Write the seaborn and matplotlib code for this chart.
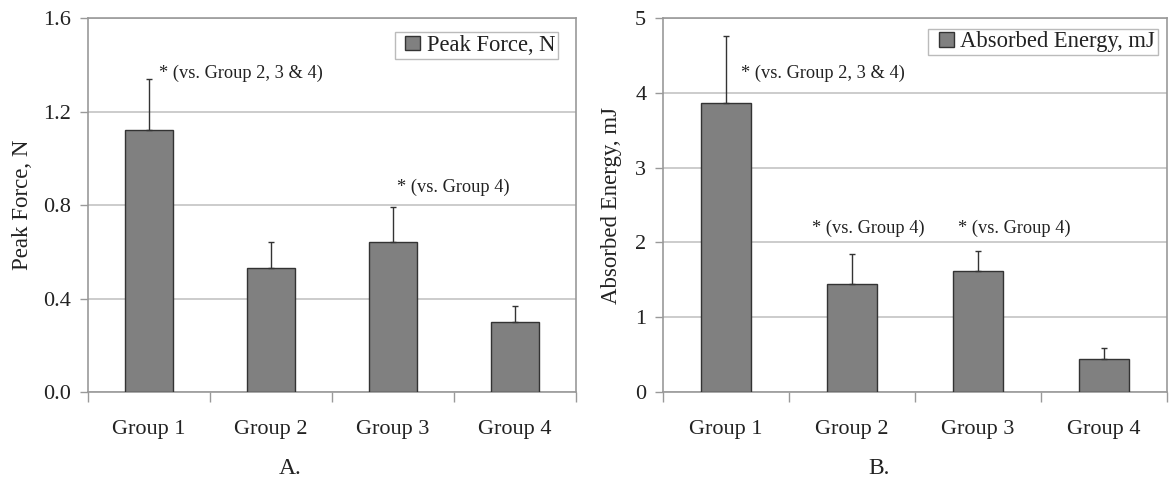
import matplotlib
matplotlib.use("Agg")
import matplotlib.pyplot as plt
from matplotlib.patches import Patch, Rectangle
from matplotlib.legend_handler import HandlerPatch
import numpy as np
import pandas as pd
import seaborn as sns

groups = ["Group 1", "Group 2", "Group 3", "Group 4"]
peak_force = [1.12, 0.53, 0.64, 0.30]
peak_force_sd = [0.22, 0.11, 0.15, 0.07]
energy = [3.87, 1.45, 1.62, 0.44]
energy_sd = [0.89, 0.40, 0.26, 0.15]

sns.set_theme(style="white")
plt.rcParams["font.family"] = ["Liberation Serif", "DejaVu Serif"]

TXT = "#222222"
GRID = "#c4c4c4"
SPINE = "#999999"
BAR = "#808080"


class SquareHandler(HandlerPatch):
    """Small square key drawn at the right end of the handle box."""

    def create_artists(self, legend, orig_handle, xdescent, ydescent, width,
                       height, fontsize, trans):
        s = height
        sq = Rectangle((-xdescent + width - s, -ydescent), s, s,
                       facecolor=orig_handle.get_facecolor(),
                       edgecolor=orig_handle.get_edgecolor(),
                       linewidth=orig_handle.get_linewidth(), transform=trans)
        return [sq]


fig = plt.figure(figsize=(11.69, 4.84), dpi=100)
ax_a = fig.add_axes([0.0753, 0.190, 0.4175, 0.7727])
ax_b = fig.add_axes([0.5671, 0.190, 0.4311, 0.7727])


def draw_panel(ax, values, sd, ymax, step, fmt, ylabel, legend_label, legend_anchor,
               ylabel_x, notes):
    df = pd.DataFrame({"group": groups, "value": values})
    sns.barplot(data=df, x="group", y="value", ax=ax, color=BAR, width=0.4,
                edgecolor="#333333", linewidth=1.0, saturation=1, errorbar=None,
                zorder=3)
    x = np.arange(len(groups))
    ax.errorbar(x, values, yerr=[np.zeros(len(sd)), sd], fmt="none",
                ecolor="#333333", elinewidth=1.0, capsize=2.2, capthick=1.0, zorder=4)
    ax.set_xlim(-0.5, len(groups) - 0.5)
    ax.set_ylim(0, ymax)
    yt = np.arange(0, ymax + step / 2, step)
    ax.set_yticks(yt)
    ax.set_yticklabels([fmt.format(v) for v in yt])
    ax.yaxis.grid(True, color=GRID, linewidth=1.2, zorder=0)
    ax.set_axisbelow(True)
    # category ticks sit on the boundaries between groups
    ax.set_xticks(np.arange(-0.5, len(groups), 1.0), minor=False)
    ax.set_xticklabels([""] * (len(groups) + 1))
    ax.set_xticks(x, minor=True)
    ax.set_xticklabels(groups, minor=True)
    ax.tick_params(axis="x", which="major", direction="out", length=7, width=1,
                   color=SPINE, bottom=True)
    ax.tick_params(axis="x", which="minor", length=0, pad=20, labelsize=16,
                   labelcolor=TXT)
    ax.tick_params(axis="y", direction="out", length=6, width=1, color=SPINE,
                   left=True, labelsize=16, labelcolor=TXT, pad=6)
    for s in ax.spines.values():
        s.set_visible(True)
        s.set_color(SPINE)
        s.set_linewidth(1.2)
    ax.set_xlabel("")
    ax.set_ylabel(ylabel, fontsize=16.5, color=TXT)
    ax.yaxis.set_label_coords(ylabel_x, 0.5)
    handle = Patch(facecolor=BAR, edgecolor="#333333", linewidth=1.0)
    leg = ax.legend([handle], [legend_label], loc="upper right", fontsize=16.3,
                    frameon=True, fancybox=False, edgecolor="#aaaaaa",
                    handlelength=1.0, handleheight=0.62, handletextpad=0.3,
                    borderpad=0.12, borderaxespad=0.0, bbox_to_anchor=legend_anchor,
                    handler_map={Patch: SquareHandler()})
    leg.get_frame().set_linewidth(1.0)
    for t in leg.get_texts():
        t.set_color(TXT)
    for xn, yn, txt in notes:
        ax.text(xn, yn, txt, fontsize=13.2, color=TXT, ha="left", va="center")


draw_panel(ax_a, peak_force, peak_force_sd, 1.6, 0.4, "{:.1f}", "Peak Force, N",
           "Peak Force, N", (0.963, 0.962), -0.113,
           [(0.08, 1.365, "* (vs. Group 2, 3 & 4)"), (2.03, 0.875, "* (vs. Group 4)")])
draw_panel(ax_b, energy, energy_sd, 5, 1, "{:.0f}", "Absorbed Energy, mJ",
           "Absorbed Energy, mJ", (0.982, 0.972), -0.081,
           [(0.12, 4.26, "* (vs. Group 2, 3 & 4)"), (0.68, 2.19, "* (vs. Group 4)"),
            (1.84, 2.19, "* (vs. Group 4)")])

fig.text(0.248, 0.033, "A.", ha="center", va="center", fontsize=17, color=TXT)
fig.text(0.752, 0.033, "B.", ha="center", va="center", fontsize=17, color=TXT)

fig.savefig("out.png", dpi=100)
